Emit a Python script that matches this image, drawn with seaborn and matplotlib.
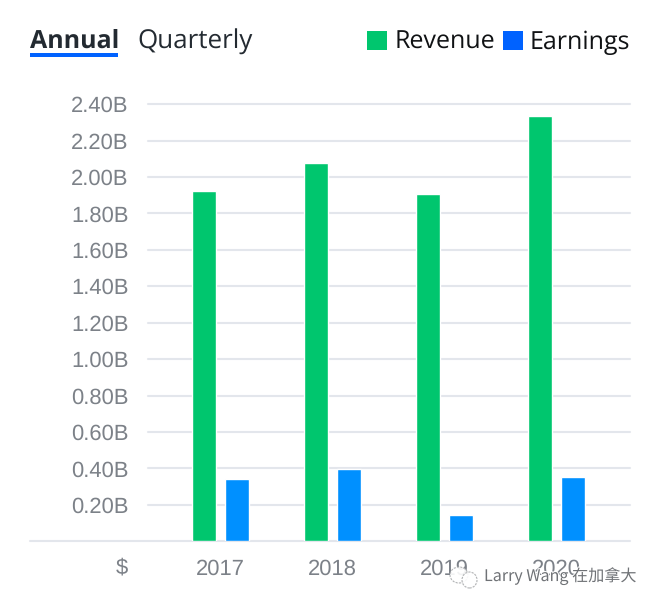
import matplotlib
matplotlib.use("Agg")
import matplotlib.pyplot as plt
import matplotlib.patheffects as pe
from matplotlib.patches import Ellipse, Patch, Rectangle
import pandas as pd
import seaborn as sns

years = ["2017", "2018", "2019", "2020"]
revenue = [1.922, 2.079, 1.906, 2.336]
earnings = [0.340, 0.395, 0.143, 0.351]
y_ticks = [0.2, 0.4, 0.6, 0.8, 1.0, 1.2, 1.4, 1.6, 1.8, 2.0, 2.2, 2.4]
y_labels = ["0.20B", "0.40B", "0.60B", "0.80B", "1.00B", "1.20B",
            "1.40B", "1.60B", "1.80B", "2.00B", "2.20B", "2.40B"]
series_names = ["Revenue", "Earnings"]

W, H = 656, 606
GREEN, BLUE, LEG_BLUE = "#00c66e", "#0090ff", "#0062ff"
GRID, GRAY, DARK = "#e3e6ec", "#7c8188", "#232a31"

sns.set_theme(style="white")
plt.rcParams["font.family"] = ["Liberation Sans", "DejaVu Sans"]
plt.rcParams["text.hinting"] = "no_hinting"
plt.rcParams["text.hinting_factor"] = 1

df = pd.DataFrame({
    "year": years * 2,
    "value": revenue + earnings,
    "series": [series_names[0]] * 4 + [series_names[1]] * 4,
})

fig = plt.figure(figsize=(W / 100, H / 100), dpi=100, facecolor="white")
ax = fig.add_axes([147.6 / W, 1 - 541.2 / H, 481.9 / W, 437 / H])
sns.barplot(data=df, x="year", y="value", hue="series", palette=[GREEN, BLUE],
            width=0.589, gap=0.29, saturation=1, legend=False, ax=ax, zorder=3)
ax.set_xlim(-0.652, 3.652)
ax.set_ylim(0, 2.4)
ax.set_xlabel("")
ax.set_ylabel("")
ax.set_yticks(y_ticks, y_labels)
for s in ax.spines.values():
    s.set_visible(False)
ax.grid(axis="y", color=GRID, lw=1.5, zorder=0)
for gl in ax.get_ygridlines():
    gl.set_clip_on(False)
ax.set_axisbelow(True)
ax.tick_params(axis="y", length=0, pad=13.8, labelsize=15.8, labelcolor=GRAY)
ax.tick_params(axis="x", length=0, pad=13, labelsize=15.8, labelcolor=GRAY)

# baseline reaches further left than the gridlines
ax.axhline(0, xmin=(30 - 148) / 482, xmax=1, color=GRID, lw=1.5, clip_on=False, zorder=2)
ax.text(128, H - 567.5, "$", transform=None, ha="right", va="center",
        fontsize=15.8, color=GRAY)

# tabs
fig.text(30 / W, 1 - 41.5 / H, "Annual", family=["Open Sans", "DejaVu Sans"], weight="bold",
         fontsize=17.8, color=DARK, ha="left", va="center")
fig.text(137 / W, 1 - 41.5 / H, "Quarterly", family=["Open Sans", "DejaVu Sans"],
         fontsize=18.5, color=DARK, ha="left", va="center")
fig.add_artist(Rectangle((30 / W, 1 - 57 / H), 88 / W, 4 / H, transform=fig.transFigure,
                         color=LEG_BLUE, lw=0))

# legend
handles = [Patch(color=GREEN, lw=0), Patch(color=LEG_BLUE, lw=0)]
fig.legend(handles, series_names, loc="center right", bbox_to_anchor=(643 / W, 1 - 42.5 / H),
           ncol=2, frameon=False, borderpad=0, handlelength=0.8, handleheight=0.8,
           handletextpad=0.3, columnspacing=0.3,
           prop={"family": "Open Sans", "size": 18}, labelcolor="#101214")

# watermark
fig.text(484 / W, 1 - 576 / H, "Larry Wang 在加拿大",
         family=["Noto Sans CJK SC", "DejaVu Sans"], fontsize=11.6, color="#6f7276",
         ha="left", va="center",
         path_effects=[pe.withStroke(linewidth=1.5, foreground="white")], zorder=5)
for cx, cy, w, h in [(459, 575, 18, 16), (469.5, 580, 15, 16)]:
    fig.add_artist(Ellipse((cx / W, 1 - cy / H), w / W, h / H, transform=fig.transFigure,
                           facecolor="white", edgecolor="#a9abad", lw=0.8, ls=(0, (2, 1)),
                           alpha=0.9, zorder=5))

fig.savefig("out.png", dpi=100)
